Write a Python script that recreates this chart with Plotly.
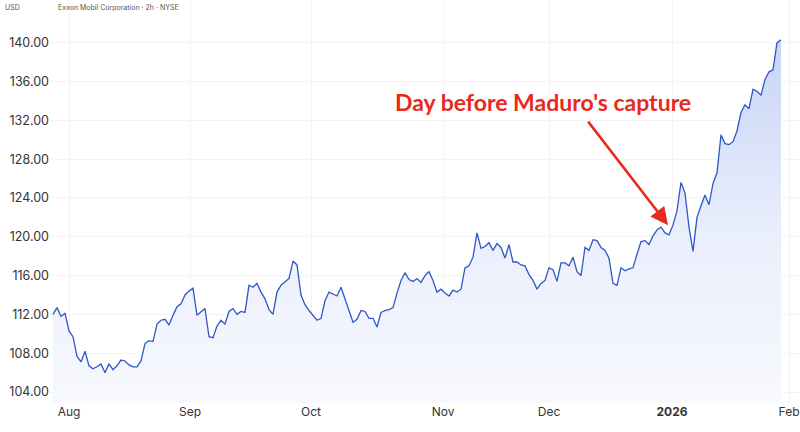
import plotly.graph_objects as go

# Exxon Mobil (XOM) price, 2h bars (evenly spaced samples)
prices = [
    112.0, 112.7, 111.8, 112.1, 110.3, 109.7, 107.7, 107.1, 108.2, 106.7,
    106.4, 106.6, 106.9, 106.0, 106.9, 106.3, 106.7, 107.3, 107.2, 106.8,
    106.6, 106.6, 107.2, 109.0, 109.3, 109.2, 111.0, 111.4, 111.5, 110.9,
    111.9, 112.8, 113.1, 114.0, 114.4, 114.7, 111.9, 112.3, 112.6, 109.7,
    109.6, 110.8, 111.4, 111.0, 112.3, 112.6, 112.0, 112.3, 112.2, 115.0,
    114.8, 115.2, 114.3, 113.6, 112.5, 112.0, 114.3, 115.0, 115.4, 115.7,
    117.5, 117.1, 114.0, 113.0, 112.4, 111.9, 111.4, 111.6, 113.4, 114.3,
    114.1, 113.9, 114.8, 113.6, 112.6, 111.2, 111.5, 112.4, 112.3, 111.6,
    111.6, 110.7, 112.2, 112.4, 112.5, 112.7, 114.2, 115.5, 116.3, 115.6,
    115.4, 115.7, 115.3, 116.0, 116.4, 115.5, 114.3, 114.6, 114.2, 113.9,
    114.5, 114.3, 114.6, 116.8, 117.0, 117.9, 120.4, 118.8, 119.0, 119.4,
    118.6, 119.3, 118.9, 117.8, 119.2, 117.4, 117.4, 117.1, 117.0, 116.1,
    115.5, 114.6, 115.2, 115.5, 116.8, 116.6, 115.4, 117.3, 117.3, 117.0,
    117.9, 116.4, 116.0, 118.9, 118.6, 119.7, 119.6, 118.9, 118.6, 117.8,
    115.2, 115.0, 116.8, 116.5, 116.7, 116.8, 118.2, 119.5, 119.6, 119.2,
    120.1, 120.7, 121.0, 120.4, 120.2, 121.2, 122.7, 125.6, 124.5, 121.0,
    118.5, 122.0, 123.2, 124.3, 123.3, 125.5, 126.6, 130.5, 129.6, 129.5,
    129.8, 130.9, 132.8, 133.6, 133.2, 135.2, 135.0, 134.6, 136.2, 137.0,
    137.2, 140.0, 140.3,
]
bar_index = list(range(len(prices)))

# x-axis month labels (position in bar index) and y-axis ticks
month_ticks = [4, 34.25, 64.5, 97.5, 124, 154.75, 184]
month_labels = ["Aug", "Sep", "Oct", "Nov", "Dec", "<b>2026</b>", "Feb"]
price_ticks = [104, 108, 112, 116, 120, 124, 128, 132, 136, 140]
price_labels = [f"{v:.2f}" for v in price_ticks]

# annotated bar: day before Maduro's capture
event_index = 153.75
event_price = 121.2

fig = go.Figure()
fig.add_trace(go.Scatter(
    x=bar_index, y=prices, mode="lines",
    line=dict(color="#3058c4", width=1.3),
    fill="tozeroy",
    fillgradient=dict(
        type="vertical", start=102.8, stop=141,
        colorscale=[[0, "#f8f9fe"], [0.45, "#eaeffc"], [1, "#c6d3f5"]],
    ),
    hoverinfo="skip", showlegend=False,
))

fig.update_layout(
    width=800, height=432,
    margin=dict(l=50, r=0, t=0, b=29),
    paper_bgcolor="white", plot_bgcolor="white",
    font=dict(family="Inter, Roboto, sans-serif", color="#333333", size=12),
    xaxis=dict(
        range=[-0.75, 186.75], tickvals=month_ticks, ticktext=month_labels,
        showgrid=True, gridcolor="#f4f4f6", gridwidth=1, zeroline=False,
        showline=False, ticks="", tickfont=dict(size=12, color="#333333"),
    ),
    yaxis=dict(
        range=[102.87, 144.4], tickvals=price_ticks, ticktext=price_labels,
        showgrid=True, gridcolor="#f4f4f6", gridwidth=1, zeroline=False,
        showline=False, ticks="", tickfont=dict(size=12.5, color="#333333"),
    ),
    annotations=[
        dict(x=-0.0627, y=1, xref="paper", yref="paper", xanchor="left", yanchor="top",
             yshift=-1, text="USD", showarrow=False,
             font=dict(size=7, color="#555555")),
        dict(x=0.008, y=1, xref="paper", yref="paper", xanchor="left", yanchor="top",
             yshift=-1, text="Exxon Mobil Corporation · 2h · NYSE", showarrow=False,
             font=dict(size=7, color="#555555")),
        dict(x=0.657, y=0.747, xref="paper", yref="paper", xanchor="center", yanchor="middle",
             text="<b>Day before Maduro's capture</b>", showarrow=False,
             font=dict(family="Lato", size=23, color="#e8291c")),
        dict(x=event_index, y=event_price, xref="x", yref="y",
             ax=-81, ay=-105, axref="pixel", ayref="pixel",
             text="", showarrow=True, arrowhead=2, arrowsize=1.4, arrowwidth=2.5,
             arrowcolor="#e8291c"),
    ],
)

fig.write_html("out.html")
